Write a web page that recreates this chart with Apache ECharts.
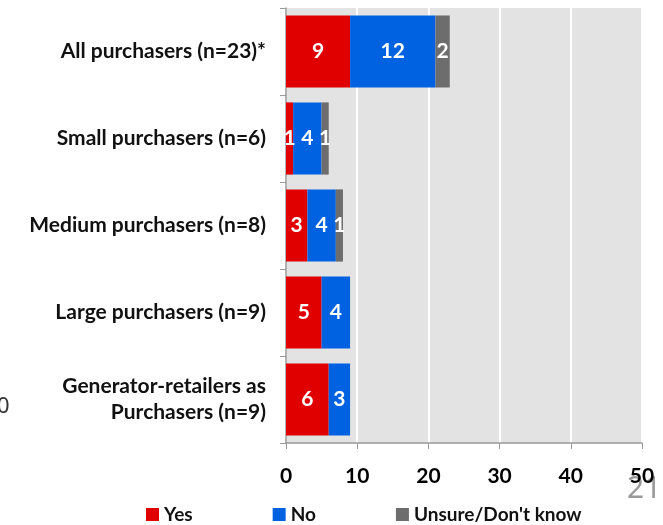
<!DOCTYPE html>
<html><head><meta charset="utf-8">
<script src="https://cdn.jsdelivr.net/npm/echarts@6/dist/echarts.min.js"></script>
<style>html,body{margin:0;padding:0;background:#fff}#c{width:663px;height:525px}</style>
</head><body><div id="c"></div>
<script>
const categories = ["All purchasers (n=23)*","Small purchasers (n=6)","Medium purchasers (n=8)","Large purchasers (n=9)","Generator-retailers as\nPurchasers (n=9)"];
const yesVals = [9,1,3,5,6];
const noVals = [12,4,4,4,3];
const unsureVals = [2,1,1,0,0];
const seriesNames = ["Yes","No","Unsure/Don't know"];
const xTicks = [0,10,20,30,40,50];

const FONT = "Lato, 'Open Sans', sans-serif";
const colors = ['#E00000','#0062E1','#6D6D6D'];
const chart = echarts.init(document.getElementById('c'));
function mk(name, data, color){
  return {
    name, type:'bar', stack:'a', data, barCategoryGap:'17%',
    itemStyle:{color},
    label:{show:true, position:'inside', color:'#fff', fontWeight:'bold', fontSize:21, fontFamily:FONT,
      formatter:p=>p.value>0?p.value:''}
  };
}
chart.setOption({
  animation:false,
  grid:{left:286, right:21, top:8, bottom:82, show:true, backgroundColor:'#E3E3E3', borderWidth:0},
  xAxis:{type:'value', min:0, max:50, interval:10,
    axisLine:{show:true, lineStyle:{color:'#999',width:1.5}},
    axisTick:{show:true, length:6, lineStyle:{color:'#999'}},
    splitLine:{show:true, lineStyle:{color:'#fff', width:2}},
    axisLabel:{color:'#000', fontWeight:'bold', fontSize:21, fontFamily:FONT, margin:23,
      formatter:v=>xTicks.includes(v)?String(v):''}},
  yAxis:{type:'category', data:categories, inverse:true,
    axisLine:{show:true, lineStyle:{color:'#999',width:1.5}},
    axisTick:{show:true, length:6, lineStyle:{color:'#999'}},
    axisLabel:{color:'#111', fontWeight:'bold', fontSize:21, fontFamily:FONT, margin:20, lineHeight:26, align:'right'}},
  legend:{bottom:-4, left:141, itemWidth:13, itemHeight:13, itemGap:80, icon:'rect',
    textStyle:{color:'#111', fontWeight:'bold', fontSize:19, fontFamily:FONT},
    data:seriesNames},
  series:[mk(seriesNames[0],yesVals,colors[0]),mk(seriesNames[1],noVals,colors[1]),mk(seriesNames[2],unsureVals,colors[2])],
  graphic:[
    {type:'text', left:-3, top:396, style:{text:'0', fontSize:22, fill:'#333', fontFamily:"'Noto Sans', sans-serif"}},
    {type:'text', left:627, top:474, style:{text:'21', fontSize:30, fill:'#999', fontFamily:"'Noto Sans', sans-serif"}}
  ]
});
</script></body></html>
